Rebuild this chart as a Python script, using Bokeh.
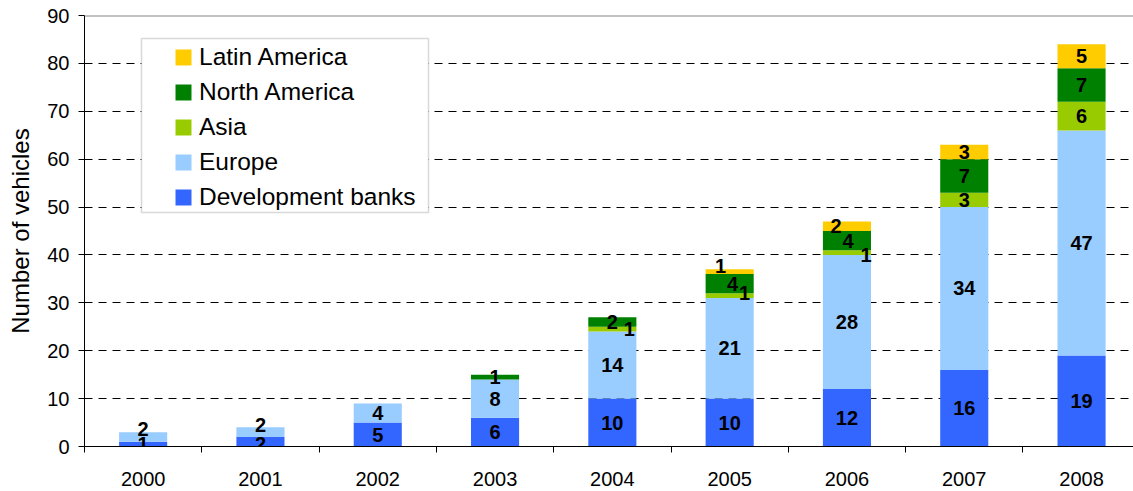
from bokeh.plotting import figure
from bokeh.models import (ColumnDataSource, Range1d, FixedTicker, LabelSet, Legend,
                          LegendItem, Span, BoxAnnotation)
from bokeh.core.properties import value
from bokeh.embed import file_html
from bokeh.resources import INLINE

# ---- data ----
years = ["2000", "2001", "2002", "2003", "2004", "2005", "2006", "2007", "2008"]
development_banks = [1, 2, 5, 6, 10, 10, 12, 16, 19]
europe = [2, 2, 4, 8, 14, 21, 28, 34, 47]
asia = [0, 0, 0, 0, 1, 1, 1, 3, 6]
north_america = [0, 0, 0, 1, 2, 4, 4, 7, 7]
latin_america = [0, 0, 0, 0, 0, 1, 2, 3, 5]
y_ticks = [0, 10, 20, 30, 40, 50, 60, 70, 80, 90]

series_names = ["Development banks", "Europe", "Asia", "North America", "Latin America"]
series_values = [development_banks, europe, asia, north_america, latin_america]

# ---- style ----
colors = ["#3366FF", "#99CCFF", "#99CC00", "#008000", "#FFCC00"]
FONT = "Liberation Sans"
# label nudges (pixels) for crowded small segments: (series index, year index) -> (dx, dy)
nudges = {
    (1, 0): (0, 8), (0, 1): (0, -2), (1, 1): (0, 7),
    (2, 4): (17, 0),
    (4, 5): (-9, 6), (3, 5): (3, 0), (2, 5): (15, 3),
    (4, 6): (-11, 0), (3, 6): (1, 0), (2, 6): (19, -2),
}

keys = ["s%d" % i for i in range(len(series_names))]
xs = [i + 0.5 for i in range(len(years))]
data = {"x": xs}
for k, vals in zip(keys, series_values):
    data[k] = vals
source = ColumnDataSource(data)

p = figure(width=1133, height=491, output_backend="svg", toolbar_location=None,
           x_range=Range1d(0, 1049 / 117.3), y_range=Range1d(0, 90),
           min_border_left=84, min_border_right=0, min_border_top=15, min_border_bottom=45)
p.outline_line_color = None
p.background_fill_color = "white"
p.border_fill_color = "white"

renderers = p.vbar_stack(keys, x="x", width=0.41, color=colors, source=source, line_color=None)

# value labels
lx, ly, lt, ldx, ldy = [], [], [], [], []
for j in range(len(years)):
    base = 0
    for i, vals in enumerate(series_values):
        v = vals[j]
        if v > 0:
            lx.append(xs[j])
            ly.append(base + v / 2)
            lt.append(str(v))
            dx, dy = nudges.get((i, j), (0, 0))
            ldx.append(dx)
            ldy.append(dy)
        base += v
lsrc = ColumnDataSource(dict(x=lx, y=ly, t=lt, dx=ldx, dy=ldy))
labels = LabelSet(x="x", y="y", text="t", source=lsrc, x_offset="dx", y_offset="dy",
                  text_align="center", text_baseline="middle", text_font=value(FONT),
                  text_font_size=value("20px"), text_font_style="bold", text_color="black")
p.add_layout(labels)

# axes
p.yaxis.ticker = FixedTicker(ticks=y_ticks)
p.yaxis.axis_label = "Number of vehicles"
p.yaxis.axis_label_text_font = FONT
p.yaxis.axis_label_text_font_size = "24px"
p.yaxis.axis_label_text_font_style = "normal"
p.yaxis.axis_label_text_color = "black"
p.yaxis.axis_label_standoff = 10
p.yaxis.major_label_text_font = FONT
p.yaxis.major_label_text_font_size = "20px"
p.yaxis.major_label_text_color = "black"
p.yaxis.major_label_standoff = 9
p.yaxis.major_tick_out = 6
p.yaxis.major_tick_in = 0
p.yaxis.minor_tick_line_color = None
p.yaxis.axis_line_color = "black"
p.yaxis.major_tick_line_color = "black"

p.xaxis.ticker = FixedTicker(ticks=xs, minor_ticks=list(range(len(years) + 1)))
p.xaxis.major_label_overrides = {x: y for x, y in zip(xs, years)}
p.xaxis.major_label_text_font = FONT
p.xaxis.major_label_text_font_size = "20px"
p.xaxis.major_label_text_color = "black"
p.xaxis.major_label_standoff = 19
p.xaxis.major_tick_line_color = None
p.xaxis.major_tick_out = 0
p.xaxis.major_tick_in = 0
p.xaxis.minor_tick_out = 6
p.xaxis.minor_tick_in = 0
p.xaxis.minor_tick_line_color = "black"
p.xaxis.axis_line_color = "black"

p.xgrid.grid_line_color = None
p.ygrid.grid_line_color = "black"
p.ygrid.grid_line_dash = "8 6"
p.ygrid.grid_line_width = 1
p.add_layout(Span(location=90, dimension="width", line_color="#888888", line_width=2))

# legend
border = BoxAnnotation(left=141, right=428, top=38, bottom=212,
                       left_units="canvas", right_units="canvas",
                       top_units="canvas", bottom_units="canvas",
                       fill_color="white", fill_alpha=1.0,
                       line_color="#808080", line_width=1.5, level="annotation")
p.add_layout(border)

items = [LegendItem(label=name, renderers=[r]) for name, r in zip(series_names, renderers)][::-1]
legend = Legend(items=items, location=(89, 235), padding=0, margin=0,
                border_line_color=None, background_fill_alpha=0,
                glyph_width=20, glyph_height=20, label_height=20, spacing=7,
                label_standoff=6, label_text_font=FONT, label_text_font_size="24.5px",
                label_text_color="black")
p.add_layout(legend, "center")

open("out.html", "w").write(file_html(p, INLINE))
